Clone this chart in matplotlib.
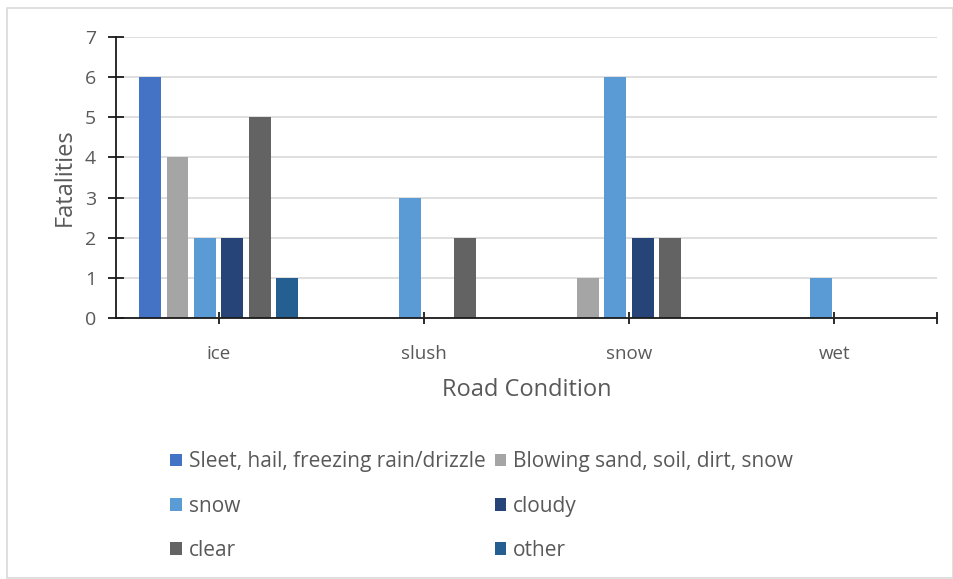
import matplotlib
matplotlib.use("Agg")
import matplotlib.pyplot as plt
import numpy as np
from matplotlib.patches import Rectangle

plt.rcParams['font.family'] = ['Open Sans', 'DejaVu Sans']

categories = ["ice", "slush", "snow", "wet"]
series_names = ["Sleet, hail, freezing rain/drizzle", "Blowing sand, soil, dirt, snow",
                "snow", "cloudy", "clear", "other"]
sleet = [6, 0, 0, 0]
blowing = [4, 0, 1, 0]
snow = [2, 3, 6, 1]
cloudy = [2, 0, 2, 0]
clear = [5, 2, 2, 0]
other = [1, 0, 0, 0]
series_values = [sleet, blowing, snow, cloudy, clear, other]
colors = ["#4472C4", "#A5A5A5", "#5B9BD5", "#264478", "#636363", "#255E91"]
y_ticks = [0, 1, 2, 3, 4, 5, 6, 7]

W, H = 954, 579
fig = plt.figure(figsize=(W / 100, H / 100), dpi=100)
fig.patches.append(Rectangle((7 / W, 0.002), (W - 8) / W, 1 - 8 / H - 0.002,
                             transform=fig.transFigure, fill=False,
                             edgecolor="#D9D9D9", linewidth=1.2))

ax = fig.add_axes([116 / W, 1 - 318 / H, (937 - 116) / W, (318 - 37) / H])
x = np.arange(len(categories))
slot = 0.1336
bw = 0.107
handles = []
for i, (vals, c) in enumerate(zip(series_values, colors)):
    b = ax.bar(x + (i - 2.5) * slot, vals, width=bw, color=c, zorder=3)
    handles.append(b)

ax.set_xlim(-0.5, 3.5)
ax.set_ylim(0, 7)
ax.set_yticks(y_ticks)
ax.set_xticks(x)
ax.set_xticklabels(categories)
ax.set_xticks([3.5], minor=True)
ax.yaxis.grid(True, color="#D9D9D9", linewidth=1.2, zorder=0)
for s in ["top", "right"]:
    ax.spines[s].set_visible(False)
for s in ["left", "bottom"]:
    ax.spines[s].set_linewidth(1.3)
    ax.spines[s].set_color("#1a1a1a")
    ax.spines[s].set_zorder(4)
ax.tick_params(axis="y", direction="inout", length=11, width=1.3, color="#1a1a1a",
               labelsize=14, labelcolor="#595959", pad=9)
ax.tick_params(axis="x", which="both", direction="inout", length=9, width=1.3, color="#1a1a1a",
               labelsize=13.5, labelcolor="#595959", pad=15)
ax.set_ylabel("Fatalities", fontsize=17, color="#595959", labelpad=6)
ax.set_xlabel("Road Condition", fontsize=17, color="#595959", labelpad=11)

order = [0, 2, 4, 1, 3, 5]
leg = fig.legend([handles[i] for i in order], [series_names[i] for i in order],
                 ncol=2, loc="upper left", bbox_to_anchor=(162 / W, 1 - 443 / H),
                 frameon=False, fontsize=15, labelcolor="#595959",
                 handlelength=0.55, handleheight=0.55, handletextpad=0.35,
                 labelspacing=1.12, columnspacing=0.42, borderaxespad=0)

fig.savefig("out.png", dpi=100)
